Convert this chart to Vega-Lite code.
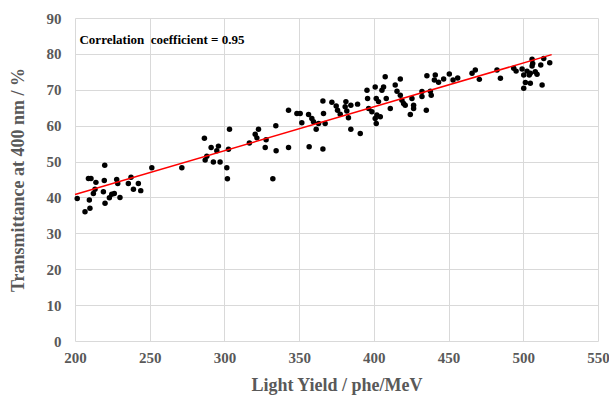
{
  "$schema": "https://vega.github.io/schema/vega-lite/v6.json",
  "width": 523,
  "height": 323,
  "autosize": {"type": "none"},
  "padding": {"left": 75, "top": 18, "right": 11, "bottom": 62},
  "background": "white",
  "config": {
    "font": "Liberation Serif",
    "view": {"stroke": null},
    "axis": {
      "domain": false,
      "ticks": false,
      "grid": true,
      "gridColor": "#d9d9d9",
      "gridWidth": 1,
      "labelFont": "Liberation Serif",
      "labelFontSize": 15,
      "labelFontWeight": "bold",
      "labelColor": "#595959",
      "labelOverlap": false,
      "labelFlush": false,
      "titleFont": "Liberation Serif",
      "titleFontSize": 18,
      "titleFontWeight": "bold",
      "titleColor": "#595959"
    }
  },
  "datasets": {
    "pts": [
      {"ly":201.5,"tr":39.7},{"ly":206.7,"tr":36.0},{"ly":210,"tr":37.0},{"ly":209.6,"tr":39.3},{"ly":209,"tr":45.3},{"ly":210.7,"tr":45.3},{"ly":212.3,"tr":41.1},{"ly":214,"tr":44.2},{"ly":213.4,"tr":42.3},{"ly":219.9,"tr":49.0},{"ly":219.6,"tr":44.7},{"ly":219,"tr":41.6},{"ly":220.1,"tr":38.4},{"ly":223,"tr":39.9},{"ly":224.6,"tr":40.9},{"ly":226.3,"tr":41.1},{"ly":227.9,"tr":45.0},{"ly":228.6,"tr":43.9},{"ly":230.1,"tr":40.0},{"ly":235.7,"tr":43.9},{"ly":237.5,"tr":45.6},{"ly":239.1,"tr":42.3},{"ly":242.4,"tr":43.9},{"ly":244,"tr":41.9},{"ly":251.4,"tr":48.3},{"ly":271.5,"tr":48.3},{"ly":286.6,"tr":56.5},{"ly":288.2,"tr":51.5},{"ly":287.1,"tr":50.4},{"ly":291.1,"tr":53.9},{"ly":292.6,"tr":49.9},{"ly":294.9,"tr":53.0},{"ly":296,"tr":54.3},{"ly":297.1,"tr":49.9},{"ly":301.6,"tr":48.3},{"ly":302,"tr":45.2},{"ly":302.7,"tr":53.4},{"ly":303.4,"tr":59.0},{"ly":316.7,"tr":55.2},{"ly":320.6,"tr":57.6},{"ly":321.7,"tr":56.6},{"ly":322.8,"tr":59.0},{"ly":327.3,"tr":53.9},{"ly":327.9,"tr":56.1},{"ly":332.4,"tr":45.2},{"ly":334.4,"tr":60.0},{"ly":334.6,"tr":53.0},{"ly":342.9,"tr":53.9},{"ly":342.9,"tr":64.3},{"ly":348.5,"tr":63.4},{"ly":350.7,"tr":63.4},{"ly":351.8,"tr":60.8},{"ly":356.7,"tr":54.1},{"ly":356.3,"tr":63.1},{"ly":358.5,"tr":62.0},{"ly":359.6,"tr":61.1},{"ly":361.4,"tr":59.0},{"ly":363,"tr":60.6},{"ly":365.9,"tr":66.9},{"ly":366.3,"tr":63.4},{"ly":365.9,"tr":53.5},{"ly":367.4,"tr":60.6},{"ly":371.9,"tr":66.5},{"ly":374.8,"tr":65.5},{"ly":375.7,"tr":64.3},{"ly":377.5,"tr":63.2},{"ly":381.3,"tr":66.7},{"ly":380.8,"tr":65.3},{"ly":381.9,"tr":64.1},{"ly":383,"tr":62.2},{"ly":384.6,"tr":59.0},{"ly":384.6,"tr":65.7},{"ly":389.1,"tr":66.0},{"ly":390.9,"tr":57.8},{"ly":395.4,"tr":69.9},{"ly":395.8,"tr":67.6},{"ly":396.5,"tr":64.8},{"ly":398.7,"tr":63.9},{"ly":400.9,"tr":70.8},{"ly":401.6,"tr":60.6},{"ly":402,"tr":63.0},{"ly":401.6,"tr":67.6},{"ly":407.6,"tr":73.6},{"ly":406.5,"tr":70.8},{"ly":405.4,"tr":69.9},{"ly":408.3,"tr":67.6},{"ly":403.1,"tr":66.7},{"ly":400.9,"tr":62.0},{"ly":404.3,"tr":62.5},{"ly":411,"tr":64.8},{"ly":414.3,"tr":71.3},{"ly":417.7,"tr":73.0},{"ly":415.5,"tr":69.6},{"ly":417.7,"tr":68.5},{"ly":418.8,"tr":67.1},{"ly":419.9,"tr":66.2},{"ly":421,"tr":65.7},{"ly":425.5,"tr":67.6},{"ly":426.6,"tr":65.7},{"ly":426.6,"tr":64.8},{"ly":424.4,"tr":63.1},{"ly":435.1,"tr":64.3},{"ly":432.2,"tr":69.5},{"ly":432.2,"tr":68.1},{"ly":435.5,"tr":73.9},{"ly":437.8,"tr":69.6},{"ly":438.4,"tr":68.5},{"ly":440.5,"tr":72.7},{"ly":441.1,"tr":74.1},{"ly":443.3,"tr":72.1},{"ly":446.7,"tr":73.0},{"ly":450.5,"tr":74.4},{"ly":453,"tr":72.7},{"ly":456.1,"tr":73.3},{"ly":465.7,"tr":74.6},{"ly":467.9,"tr":75.5},{"ly":470.6,"tr":72.9},{"ly":482.4,"tr":75.5},{"ly":484.7,"tr":73.2},{"ly":493.6,"tr":76.0},{"ly":495.2,"tr":75.2},{"ly":499.2,"tr":75.8},{"ly":500.3,"tr":74.1},{"ly":501.4,"tr":72.0},{"ly":500.3,"tr":70.4},{"ly":502.5,"tr":75.2},{"ly":504,"tr":74.1},{"ly":506.3,"tr":77.3},{"ly":505.9,"tr":78.5},{"ly":513.7,"tr":78.7},{"ly":517.7,"tr":77.5},{"ly":511.7,"tr":76.9},{"ly":505.9,"tr":76.6},{"ly":504.7,"tr":74.6},{"ly":508,"tr":75.0},{"ly":509.2,"tr":74.3},{"ly":504.7,"tr":71.8},{"ly":512.6,"tr":71.3}
    ],
    "fit": [{"ly":200,"tr":40.8},{"ly":519,"tr":79.8}],
    "note": [{"ly":203,"tr":83.8,"label":"Correlation\u00a0\u00a0coefficient = 0.95"}]
  },
  "encoding": {
    "x": {"field": "ly", "type": "quantitative",
      "scale": {"domain": [200, 550], "nice": false, "zero": false},
      "axis": {"values": [200,250,300,350,400,450,500,550], "title": "Light Yield / phe/MeV", "labelPadding": 9, "titleY": 44, "titleBaseline": "middle"}},
    "y": {"field": "tr", "type": "quantitative",
      "scale": {"domain": [0, 90], "nice": false, "zero": true},
      "axis": {"values": [0,10,20,30,40,50,60,70,80,90], "title": "Transmittance at 400 nm / %", "labelPadding": 14, "titleX": -57, "titleY": 161.5, "titleBaseline": "middle", "titleAlign": "center"}}
  },
  "layer": [
    {
      "data": {"name": "pts"},
      "mark": {"type": "point", "filled": true, "color": "black", "opacity": 1, "size": 30}
    },
    {
      "data": {"name": "fit"},
      "mark": {"type": "line", "color": "#ff0000", "strokeWidth": 1.5}
    },
    {
      "data": {"name": "note"},
      "mark": {"type": "text", "align": "left", "baseline": "middle", "fontSize": 13, "fontWeight": "bold", "color": "black", "font": "Liberation Serif"},
      "encoding": {
        "text": {"field": "label"}
      }
    }
  ]
}
